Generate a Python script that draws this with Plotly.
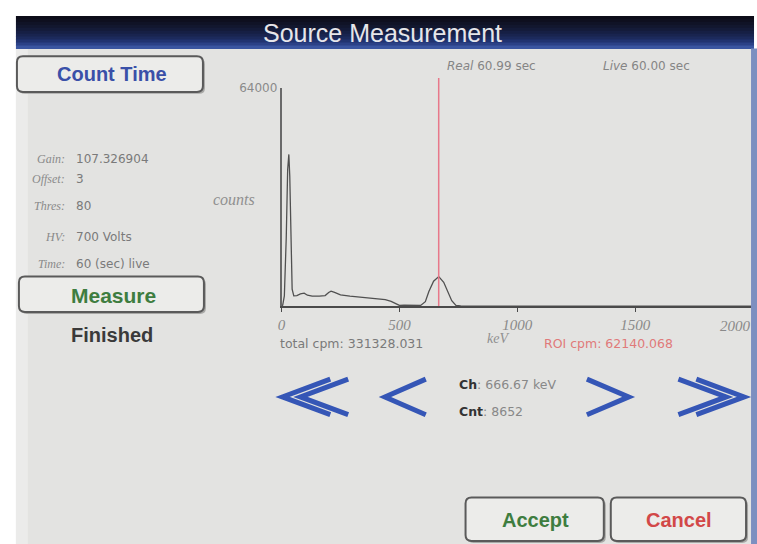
import plotly.graph_objects as go

W, H = 757, 544

# ---- spectrum data (keV, counts) ----
energy_kev = [0, 5, 12, 20, 26, 31, 35, 40, 45, 52, 65, 80, 96, 110, 130, 160, 185, 200,
              210, 225, 250, 290, 330, 370, 410, 440, 465, 485, 500, 520, 560, 590, 610,
              625, 645, 667, 688, 705, 722, 740, 760, 800, 1000, 1500, 2000]
counts = [0, 300, 3000, 20000, 40000, 44500, 38000, 15000, 5000, 3000, 3100, 3600, 3800,
          3200, 2900, 2900, 3100, 4000, 4400, 4000, 3300, 2900, 2600, 2400, 2200, 1900,
          1400, 700, 200, 250, 250, 200, 1300, 4300, 7300, 8652, 7000, 4300, 1600, 200,
          50, 0, 0, 0, 0]
x_tick_vals = [0, 500, 1000, 1500, 2000]
x_tick_text = ["0", "500", "1000", "1500", "2000"]
y_max = 64000
cursor_kev = 666.67

left_labels = ["Gain:", "Offset:", "Thres:", "HV:", "Time:"]
left_values = ["107.326904", "3", "80", "700 Volts", "60 (sec) live"]

FONT = "Liberation Sans, Arial, sans-serif"
SMALL = "DejaVu Sans, sans-serif"
ITAL = "Liberation Serif, serif"


def px(x):
    return x / W


def py(y):
    return 1 - y / H


def rrect(x0, y0, x1, y1, r):
    pts = []
    pts.append(f"M {px(x0 + r)},{py(y0)}")
    pts.append(f"L {px(x1 - r)},{py(y0)}")
    pts.append(f"Q {px(x1)},{py(y0)} {px(x1)},{py(y0 + r)}")
    pts.append(f"L {px(x1)},{py(y1 - r)}")
    pts.append(f"Q {px(x1)},{py(y1)} {px(x1 - r)},{py(y1)}")
    pts.append(f"L {px(x0 + r)},{py(y1)}")
    pts.append(f"Q {px(x0)},{py(y1)} {px(x0)},{py(y1 - r)}")
    pts.append(f"L {px(x0)},{py(y0 + r)}")
    pts.append(f"Q {px(x0)},{py(y0)} {px(x0 + r)},{py(y0)} Z")
    return " ".join(pts)


shapes = []
# screen background
shapes.append(dict(type="rect", xref="paper", yref="paper", x0=px(12), x1=px(752),
                   y0=py(544), y1=py(42), fillcolor="#e3e3e1", line_width=0, layer="below"))
shapes.append(dict(type="rect", xref="paper", yref="paper", x0=px(12), x1=px(24),
                   y0=py(544), y1=py(42), fillcolor="#ebebea", line_width=0, layer="below"))
# title bar gradient
bar_cols = ["#0c0c18", "#0e0f1e", "#101326", "#12172e", "#141b38", "#161f44",
            "#19244f", "#1c2a5c", "#213370", "#2b4186", "#3a55a0"]
band = (42 - 9) / len(bar_cols)
for i, c in enumerate(bar_cols):
    shapes.append(dict(type="rect", xref="paper", yref="paper", x0=px(12), x1=px(754),
                       y0=py(9 + (i + 1) * band + 0.5), y1=py(9 + i * band),
                       fillcolor=c, line_width=0, layer="below"))
# right blue border
shapes.append(dict(type="rect", xref="paper", yref="paper", x0=px(751), x1=px(757),
                   y0=py(544), y1=py(42), fillcolor="#7c8fc0", line_width=0, layer="above"))

# buttons
buttons = [(13, 50, 200, 86), (15, 273, 201, 309), (464, 497, 603, 541), (610, 497, 746, 541)]
for (x0, y0, x1, y1) in buttons:
    shapes.append(dict(type="path", xref="paper", yref="paper", path=rrect(x0 + 2, y0 + 2, x1 + 2, y1 + 2, 6),
                       fillcolor="#a8a8a6", line_width=0, layer="below"))
    shapes.append(dict(type="path", xref="paper", yref="paper", path=rrect(x0, y0, x1, y1, 6),
                       fillcolor="#ececea", line=dict(color="#5a5a5a", width=2), layer="below"))

# chevrons (tip_x, arm_x)
blue = "#3556b6"
chev = [(280, 328), (298, 346), (383, 424), (628, 586), (678 + 48, 678), (696 + 48, 696)]
for tip, arm in chev:
    shapes.append(dict(type="path", xref="paper", yref="paper",
                       path=f"M {px(arm)},{py(377)} L {px(tip)},{py(395)} L {px(arm)},{py(413)}",
                       fillcolor="rgba(0,0,0,0)",
                       line=dict(color=blue, width=5), layer="above"))

# ROI cursor
shapes.append(dict(type="line", xref="x", yref="paper", x0=cursor_kev, x1=cursor_kev,
                   y0=py(303), y1=py(72), line=dict(color="#e8788a", width=1.5), layer="above"))

fig = go.Figure()
fig.add_trace(go.Scatter(x=energy_kev, y=counts, mode="lines",
                         line=dict(color="#505050", width=1.3), hoverinfo="skip", showlegend=False))

ann = []


def text(x, y, s, size=12, color="#777", xanchor="center", family=FONT, bold=False, italic=False):
    if bold:
        s = f"<b>{s}</b>"
    if italic:
        s = f"<i>{s}</i>"
    ann.append(dict(x=px(x), y=py(y), xref="paper", yref="paper", text=s, showarrow=False,
                    xanchor=xanchor, yanchor="middle", font=dict(family=family, size=size, color=color)))


text(381, 26, "Source Measurement", size=25, color="#e6e6ea")
text(109, 68, "Count Time", size=20, color="#3a50a8", bold=True)
text(110, 292, "Measure", size=21, color="#3e7d40", bold=True)
text(109, 332, "Finished", size=20, color="#3a3a3a", bold=True)
text(534, 520, "Accept", size=20, color="#3e7d40", bold=True)
text(679, 520, "Cancel", size=20, color="#d24848", bold=True)

ys = [154, 174, 202, 233, 260]
for lab, val, y in zip(left_labels, left_values, ys):
    text(63, y, lab, size=12, color="#8a8a8a", xanchor="right", family=ITAL, italic=True)
    text(70, y, val, size=12, color="#7a7a7a", xanchor="left", family=SMALL)

text(443, 60, "<i>Real</i> 60.99 sec", size=12, color="#858585", xanchor="left", family=SMALL)
text(600, 60, "<i>Live</i> 60.00 sec", size=12, color="#858585", xanchor="left", family=SMALL)
text(231, 195, "counts", size=16, color="#909090", italic=True, family=ITAL)
text(497, 336, "keV", size=14, color="#909090", italic=True, family=ITAL)
text(275, 341, "total cpm: 331328.031", size=12.5, color="#7a7a7a", xanchor="left", family=SMALL)
text(541, 341, "ROI cpm: 62140.068", size=12.5, color="#e07a7a", xanchor="left", family=SMALL)
text(455, 382, "<b><span style='color:#333'>Ch</span></b>: 666.67 keV", size=12.5, color="#888", xanchor="left", family=SMALL)
text(455, 410, "<b><span style='color:#333'>Cnt</span></b>: 8652", size=12.5, color="#888", xanchor="left", family=SMALL)

# last tick label, right-aligned at its tick so it stays inside the screen
ann.append(dict(x=x_tick_vals[-1], xref="x", y=py(313), yref="paper", text=x_tick_text[-1],
                showarrow=False, xanchor="right", yanchor="top",
                font=dict(family=ITAL, size=15, color="#8a8a8a", style="italic")))

fig.update_layout(
    width=W, height=H, margin=dict(l=0, r=0, t=0, b=0),
    paper_bgcolor="white", plot_bgcolor="rgba(0,0,0,0)",
    shapes=shapes, annotations=ann, showlegend=False,
    xaxis=dict(domain=[px(279), px(753)], range=[0, 2000], showgrid=False, zeroline=False,
               showline=True, linecolor="#4a4a4a", linewidth=2,
               tickvals=x_tick_vals, ticktext=x_tick_text[:-1] + [""], ticks="outside", ticklen=4,
               tickcolor="#4a4a4a", tickfont=dict(family=ITAL, size=15, color="#8a8a8a", style="italic")),
    yaxis=dict(domain=[py(303), py(82)], range=[0, y_max], showgrid=False, zeroline=False,
               showline=True, linecolor="#6a6a6a", linewidth=1.5,
               tickvals=[y_max], ticktext=["64000"], ticks="",
               tickfont=dict(family=SMALL, size=12, color="#8a8a8a")),
)

post = ("document.documentElement.style.margin='0';document.documentElement.style.overflow='hidden';"
        "document.body.style.margin='0';document.body.style.padding='0';document.body.style.overflow='hidden';"
        "var d=document.getElementById('{plot_id}');d.style.position='absolute';"
        "d.style.left='0px';d.style.top='0px';")
fig.write_html("out.html", config={"displayModeBar": False}, post_script=post)
